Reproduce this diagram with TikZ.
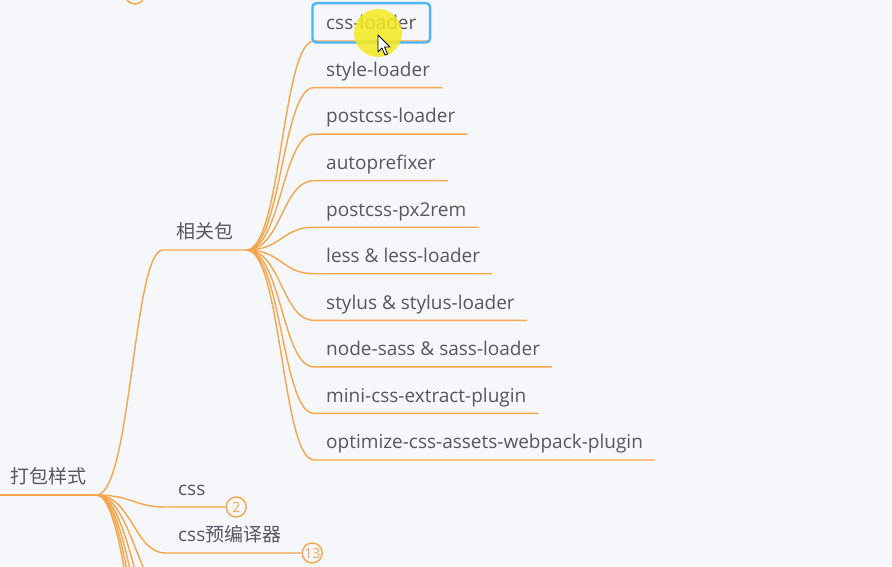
\documentclass[tikz,border=0pt]{standalone}
\usepackage{fontspec}
\setmainfont{Open Sans}
\newfontfamily\cjk{Noto Sans CJK SC}
\usepackage{tikz}
\usetikzlibrary{positioning,fit,calc}
\definecolor{branch}{HTML}{F8A54B}
\definecolor{inkgray}{HTML}{55585F}
\definecolor{canvas}{HTML}{F6F7FB}
\definecolor{selblue}{HTML}{4DB6F4}
\definecolor{hilite}{HTML}{F3EA1E}
\tikzset{
  % Topic text: underline sits on the node's south edge
  topic/.style={inner xsep=13pt, inner ysep=11pt, text height=14pt, text depth=0pt,
                anchor=south west, text=inkgray, font=\fontsize{19}{22}\selectfont},
  leaf/.style={topic, inner xsep=12pt},
  % Branch lines
  stem/.style={draw=branch, line width=1.4pt},
  % Collapsed-children counter
  badge/.style={draw=branch, circle, fill=canvas, line width=1.4pt, minimum size=20pt,
                inner sep=0pt, text=branch, font=\fontsize{14}{14}\selectfont},
  % Selection frame
  selbox/.style={draw=selblue, rounded corners=4pt, line width=2.4pt, inner sep=1.5pt}
}
\begin{document}
\begin{tikzpicture}[x=1pt, y=-1pt]

\fill[canvas] (0,0) rectangle (892,566);
\useasboundingbox (0,0) rectangle (892,566);
\clip (0,0) rectangle (892,566);

% ============== ROOT ==============
\node[topic, inner xsep=10pt] (root) at (0,495) {\cjk 打包样式};
\draw[stem] (root.south west) -- (root.south east);

% ============== 相关包 and its leaves ==============
\node[topic] (pkg) at (163,250) {\cjk 相关包};
\draw[stem] (root.south east) .. controls +(35,0) and +(-30,0) .. (pkg.south west) -- (pkg.south east);

\foreach \i/\txt in {1/css-loader, 2/style-loader, 3/postcss-loader, 4/autoprefixer,
                     5/postcss-px2rem, 6/less \& less-loader, 7/stylus \& stylus-loader,
                     8/node-sass \& sass-loader, 9/mini-css-extract-plugin,
                     10/optimize-css-assets-webpack-plugin} {
  \node[leaf] (c\i) at (314,{41+46.55*(\i-1)}) {\txt};
  \draw[stem] (pkg.south east) .. controls +(35,0) and +(-32,0) .. (c\i.south west) -- (c\i.south east);
}

% ============== css / css预编译器 ==============
\node[topic] (css) at (165,507) {css};
\node[badge, right=7pt of css.south east] (b2) {2};
\draw[stem] (root.south east) .. controls +(35,0) and +(-30,0) .. (css.south west) -- (b2.west);

\node[topic] (pre) at (165,553) {css{\cjk 预编译器}};
\node[badge, right=7pt of pre.south east] (b13) {13};
\draw[stem] (root.south east) .. controls +(35,0) and +(-30,0) .. (pre.south west) -- (b13.west);

% siblings below the frame
\foreach \k in {1,...,5} {
  \coordinate (off\k) at (170,{553+46*\k});
  \draw[stem] (root.south east) .. controls +(35,0) and +(-30,0) .. (off\k);
}

% badge of a node above the frame
\node[badge] (btop) at (135,-6) {};

% ============== selection and cursor ==============
\node[selbox, fit=(c1)] (sel) {};
\fill[hilite, opacity=0.85] (378,33) circle (24);
\draw[fill=white, line width=0.8pt, line join=round]
  (378,35) -- ++(0,17) -- ++(4,-4) -- ++(3,7) -- ++(2.5,-1) -- ++(-3,-7) -- ++(5.5,0) -- cycle;

\end{tikzpicture}
\end{document}
